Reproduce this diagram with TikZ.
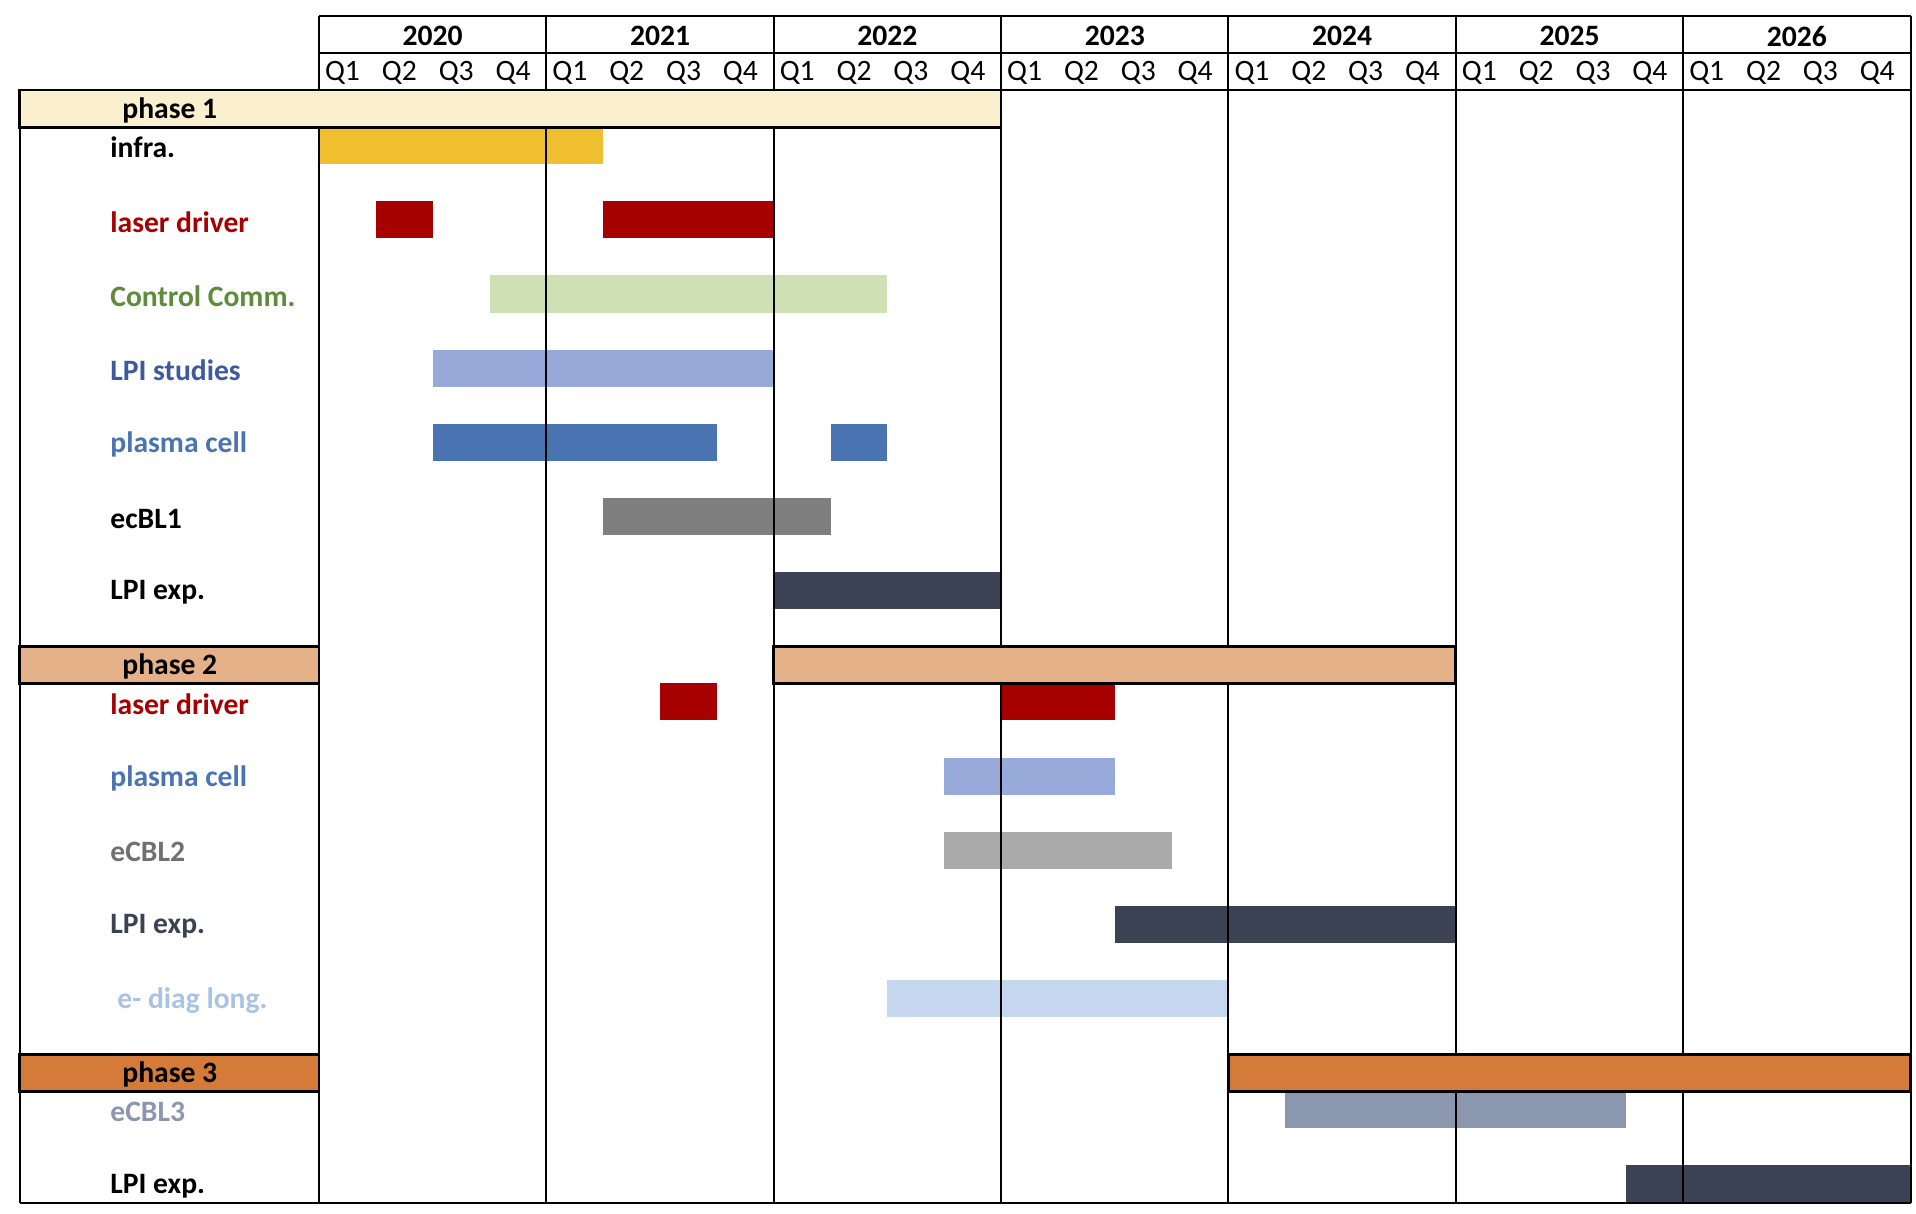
\documentclass[tikz,border=0pt]{standalone}
\usepackage{fontspec}
\setmainfont{Carlito}
\usepackage{tikz}
\usetikzlibrary{positioning}
\usepackage{xcolor}
\definecolor{phaseA}{HTML}{FAF0CD}
\definecolor{phaseB}{HTML}{E5B188}
\definecolor{phaseC}{HTML}{D47B3A}
\definecolor{infraC}{HTML}{F0BF2F}
\definecolor{laserC}{HTML}{A60000}
\definecolor{ctrlT}{HTML}{5F8B3C}
\definecolor{ctrlC}{HTML}{CFE0B5}
\definecolor{lpistT}{HTML}{3D5A9E}
\definecolor{lpistC}{HTML}{97A9D9}
\definecolor{plasmaC}{HTML}{4A73B2}
\definecolor{plasmaL}{HTML}{97AADA}
\definecolor{eblC}{HTML}{7F7F7F}
\definecolor{lpiexC}{HTML}{3B4253}
\definecolor{eblBT}{HTML}{707070}
\definecolor{eblBC}{HTML}{AAAAAA}
\definecolor{diagT}{HTML}{A9C3E7}
\definecolor{diagC}{HTML}{C5D7EF}
\definecolor{eblCC}{HTML}{8A97AF}
\newcommand{\task}[4]{\fill[#4] (#1,#3) rectangle (#2,#3+1);}

\begin{document}
\begin{tikzpicture}[
  x=28.42pt, y=-18.54pt,
  font=\fontsize{14.8}{17}\selectfont,
  yr/.style={font=\fontsize{14.8}{17}\selectfont\bfseries,inner sep=0pt,yshift=-0.8pt},
  qtr/.style={anchor=west,inner sep=0pt,yshift=-0.8pt},
  lbl/.style={anchor=west,inner sep=0pt,yshift=-1pt,font=\fontsize{14.8}{17}\selectfont\bfseries},
  grid/.style={line width=1pt},
  band/.style={draw=black,line width=1.4pt},
]
  \useasboundingbox (-5.612,-0.4288) rectangle (28.096,32.31);

  % bars, phase 1
  \task{0}{5}{3}{infraC}
  \task{1}{2}{5}{laserC}
  \task{5}{8}{5}{laserC}
  \task{3}{10}{7}{ctrlC}
  \task{2}{8}{9}{lpistC}
  \task{2}{7}{11}{plasmaC}
  \task{9}{10}{11}{plasmaC}
  \task{5}{9}{13}{eblC}
  \task{8}{12}{15}{lpiexC}
  % bars, phase 2
  \task{6}{7}{18}{laserC}
  \task{12}{14}{18}{laserC}
  \task{11}{14}{20}{plasmaL}
  \task{11}{15}{22}{eblBC}
  \task{14}{20}{24}{lpiexC}
  \task{10}{16}{26}{diagC}
  % bars, phase 3
  \task{17}{23}{29}{eblCC}
  \task{23}{28}{31}{lpiexC}

  % grid
  \foreach \k in {0,4,...,28}
    \draw[grid] (\k,0) -- (\k,32);
  \draw[grid] (-5.267,2) -- (-5.267,32);
  \draw[grid] (0,0) -- (28,0);
  \draw[grid] (0,1) -- (28,1);
  \draw[grid] (-5.267,2) -- (28,2);
  \draw[grid] (-5.267,32) -- (28,32);

  % header
  \foreach \yy [count=\n from 0] in {2020,...,2026} {
    \node[yr] (y\yy) at (4*\n+2,0.5) {\yy};
    \foreach \q in {1,...,4}
      \node[qtr] (q\yy-\q) at (4*\n+\q-1+0.1,1.5) {Q\q};
  }

  % phase bands
  \filldraw[band,fill=phaseA] (-5.267,2) rectangle (12,3);
  \filldraw[band,fill=phaseB] (-5.267,17) rectangle (0,18);
  \filldraw[band,fill=phaseB] (8,17) rectangle (20,18);
  \filldraw[band,fill=phaseC] (-5.267,28) rectangle (0,29);
  \filldraw[band,fill=phaseC] (16,28) rectangle (28,29);

  \node[lbl] (ph1) at (-3.466,2.5) {phase 1};
  \node[lbl] (ph2) at (-3.466,17.5) {phase 2};
  \node[lbl] (ph3) at (-3.466,28.5) {phase 3};

  % task names
  \node[lbl] (infra) at (-3.677,3.5) {infra.};
  \node[lbl,text=laserC] (laserA) at (-3.677,5.5) {laser driver};
  \node[lbl,text=ctrlT] (ctrl) at (-3.677,7.5) {Control Comm.};
  \node[lbl,text=lpistT] (lpist) at (-3.677,9.5) {LPI studies};
  \node[lbl,text=plasmaC] (plasmaA) at (-3.677,11.5) {plasma cell};
  \node[lbl] (eblA) at (-3.677,13.5) {ecBL1};
  \node[lbl] (lpiA) at (-3.677,15.5) {LPI exp.};

  \node[lbl,text=laserC] (laserB) at (-3.677,18.5) {laser driver};
  \node[lbl,text=plasmaC] (plasmaB) at (-3.677,20.5) {plasma cell};
  \node[lbl,text=eblBT] (eblB) at (-3.677,22.5) {eCBL2};
  \node[lbl,text=lpiexC] (lpiB) at (-3.677,24.5) {LPI exp.};
  \node[lbl,text=diagT] (diag) at (-3.554,26.5) {e- diag long.};

  \node[lbl,text=eblCC] (eblC) at (-3.677,29.5) {eCBL3};
  \node[lbl] (lpiC) at (-3.677,31.5) {LPI exp.};
\end{tikzpicture}
\end{document}
